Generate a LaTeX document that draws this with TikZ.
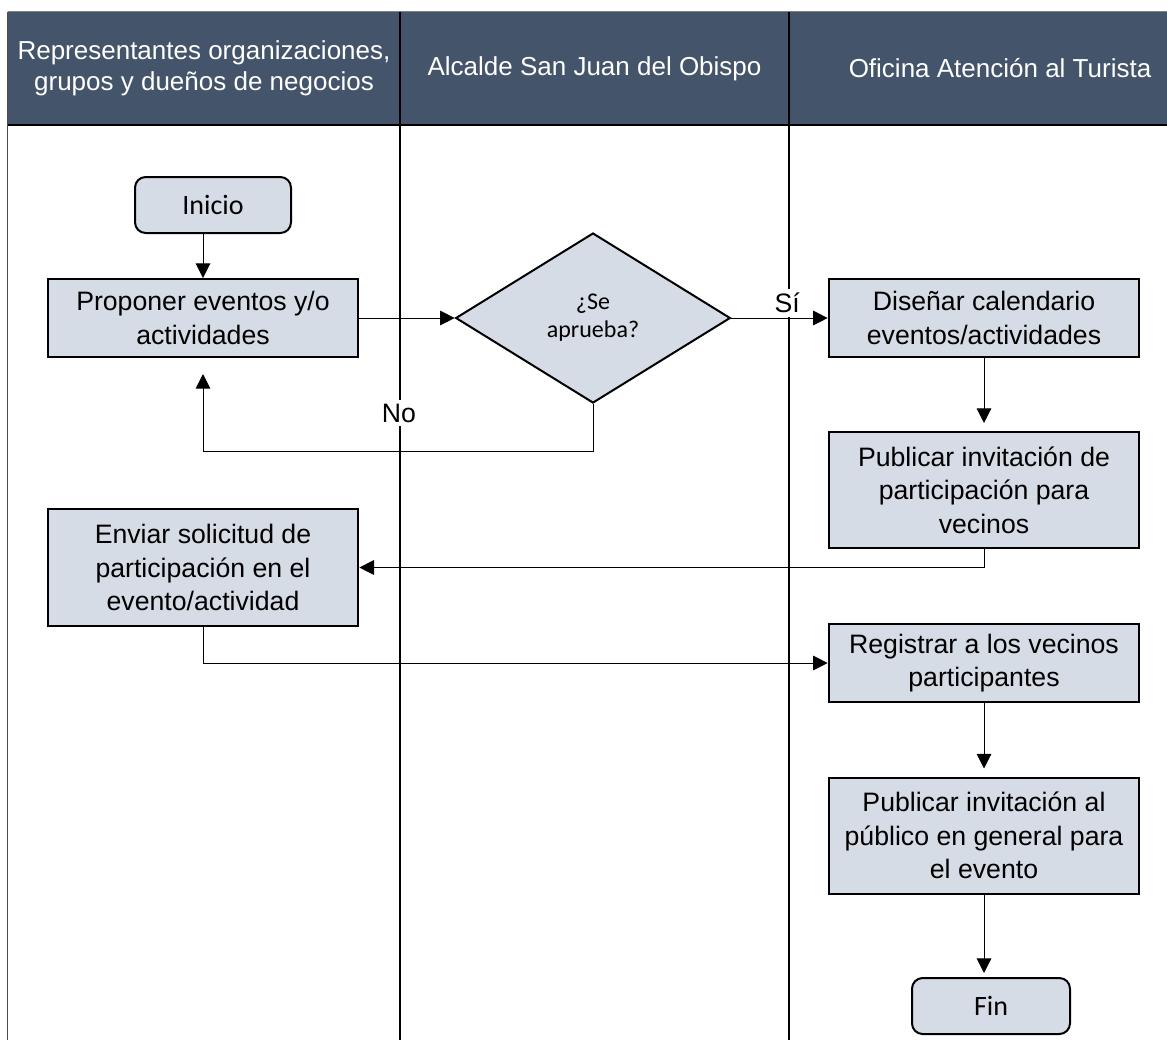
\documentclass[tikz,border=0pt]{standalone}
\usepackage{fontspec}
\setmainfont{Liberation Sans}
\newfontfamily\calfont{Carlito}
\usetikzlibrary{positioning, arrows.meta, shapes.geometric}
\definecolor{headfill}{HTML}{44546A}
\definecolor{boxfill}{HTML}{D6DCE5}
\newcommand{\hfont}{\fontsize{19.5}{23}\selectfont}
\newcommand{\bfont}{\fontsize{20}{25}\selectfont}
\newcommand{\cfont}{\calfont\fontsize{21}{24}\selectfont}
\newcommand{\dfont}{\calfont\fontsize{18}{21}\selectfont}

\begin{document}
\begin{tikzpicture}[
		x=0.75pt, y=-0.75pt,
		>={Triangle[length=11pt, width=11pt]},
		lanehead/.style={fill=headfill, text=white, minimum height=84.75pt, inner sep=0pt, align=center, font=\hfont},
		laneline/.style={line width=1.5pt},
		procnode/.style={draw, line width=1.5pt, fill=boxfill, minimum width=233pt, align=center, font=\bfont},
		termnode/.style={draw, line width=1.5pt, fill=boxfill, rounded corners=8pt, minimum width=117pt, minimum height=42pt, font=\cfont},
		decnode/.style={diamond, draw, line width=1.5pt, fill=boxfill, minimum width=206pt, minimum height=127.5pt, inner sep=0pt, align=center, font=\dfont},
		flowl/.style={->, line width=0.75pt},
		lbl/.style={fill=white, inner sep=3pt, font=\bfont},
	]
	\clip (0,0) rectangle (1167,1040);
	\coordinate (bot) at (0,1040);
	\coordinate (nobend) at (0,451);

	% swimlane headers
	\node[lanehead, minimum width=294pt] (h1) at (204, 68.5) {Representantes organizaciones,\\grupos y dueños de negocios};
	\node[lanehead, minimum width=291.75pt] (h2) at (594.5, 68.5) {Alcalde San Juan del Obispo};
	\node[lanehead, minimum width=316.5pt] (h3) at (1000, 68.5) {Oficina Atención al Turista};

	\draw[line width=0.75pt, black!50] (h1.north west) -- (h3.north east);
	\draw[line width=0.75pt, black!70] (h1.north west) -- (h1.north west |- bot);
	\draw[laneline] (h2.north west) -- (h2.north west |- bot);
	\draw[laneline] (h3.north west) -- (h3.north west |- bot);
	\draw[laneline] (h1.south west) -- (h3.south east);

	% steps
	\node[termnode] (inicio) at (213, 205) {Inicio};
	\node[procnode, minimum height=58.5pt] (prop) at (203, 318) {Proponer eventos y/o\\actividades};
	\node[decnode] (dec) at (593, 318) {¿Se\\aprueba?};
	\node[procnode, minimum height=58.5pt] (dis) at (984, 318) {Diseñar calendario\\eventos/actividades};
	\node[procnode, minimum height=87pt] (pubv) at (984, 490) {Publicar invitación de\\participación para\\vecinos};
	\node[procnode, minimum height=87.75pt] (env) at (203, 567.5) {Enviar solicitud de\\participación en el\\evento/actividad};
	\node[procnode, minimum height=58.5pt] (reg) at (984, 663) {Registrar a los vecinos\\participantes};
	\node[procnode, minimum height=87pt] (pubg) at (984, 835.5) {Publicar invitación al\\público en general para\\el evento};
	\node[termnode, minimum width=118.5pt] (fin) at (991, 1006) {Fin};

	% flow
	\draw[flowl] (inicio.south -| prop.north) -- (prop.north);
	\draw[flowl] (prop.east) -- (dec.west);
	\draw[flowl] (dec.east) -- (dis.west) node[lbl, above=0.4pt, pos=0.58] (si) {Sí};
	\draw[flowl, shorten >=12pt] (dec.south) -- (dec.south |- nobend) -| (prop.south);
	\node[lbl] (no) at (399, 413) {No};
	\draw[flowl, shorten >=6pt] (dis.south) -- (pubv.north);
	\draw[flowl] (pubv.south) |- (env.east);
	\draw[flowl] (env.south) |- (reg.west);
	\draw[flowl, shorten >=6pt] (reg.south) -- (pubg.north);
	\draw[flowl, shorten >=3pt] (pubg.south) -- (pubg.south |- fin.north);
\end{tikzpicture}
\end{document}
